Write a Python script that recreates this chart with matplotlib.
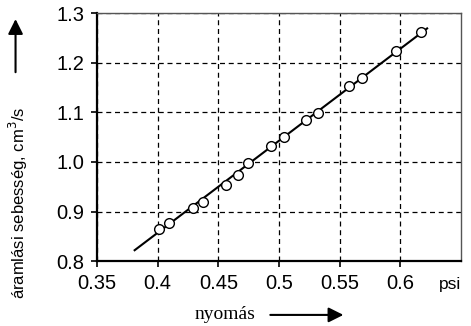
import numpy as np
import matplotlib
matplotlib.use('Agg')
import matplotlib.pyplot as plt

pressure = [0.401, 0.409, 0.429, 0.437, 0.456, 0.466, 0.474, 0.493, 0.504,
            0.522, 0.532, 0.558, 0.568, 0.596, 0.617]
flow = [0.864, 0.877, 0.907, 0.920, 0.953, 0.973, 0.997, 1.033, 1.051,
        1.084, 1.098, 1.153, 1.170, 1.223, 1.262]

# fitted line end points
fit_x = [0.381, 0.622]
fit_y = [0.822, 1.269]

xticks = [0.35, 0.4, 0.45, 0.5, 0.55, 0.6]
xticklabels = ['0.35', '0.4', '0.45', '0.5', '0.55', '0.6']
yticks = [0.8, 0.9, 1.0, 1.1, 1.2, 1.3]
yticklabels = ['0.8', '0.9', '1.0', '1.1', '1.2', '1.3']

plt.rcParams['font.family'] = ['Liberation Sans', 'DejaVu Sans']

fig = plt.figure(figsize=(4.71, 3.26), dpi=100)
ax = fig.add_axes([0.206, 0.199, 0.773, 0.761])

ax.plot(fit_x, fit_y, color='black', lw=1.5, zorder=2)
ax.plot(pressure, flow, 'o', mfc='white', mec='black', mew=1.0, ms=7, zorder=3)

ax.set_xlim(0.35, 0.65)
ax.set_ylim(0.8, 1.3)
ax.set_xticks(xticks)
ax.set_xticklabels(xticklabels)
ax.set_yticks(yticks)
ax.set_yticklabels(yticklabels)
ax.tick_params(labelsize=14.5, length=4, width=1.2, direction='out', pad=5)
ax.grid(True, ls=(0, (4, 3)), color='black', lw=0.9)

for s in ['left', 'bottom']:
    ax.spines[s].set_linewidth(1.6)
for s in ['top', 'right']:
    ax.spines[s].set_linewidth(1.0)
    ax.spines[s].set_color('#555555')

# axis labels with arrows
fig.text(0.040, 0.377, 'áramlási sebesség, cm$^3$/s', rotation=90,
         ha='center', va='center', fontsize=12)
ax.annotate('', xy=(0.033, 0.95), xytext=(0.033, 0.77), xycoords='figure fraction',
            annotation_clip=False,
            arrowprops=dict(arrowstyle='-|>,head_length=0.6,head_width=0.3',
                            color='black', lw=1.5, mutation_scale=15))
fig.text(0.478, 0.034, 'nyomás', ha='center', va='center', fontsize=14,
         family=['Liberation Serif', 'DejaVu Serif'])
ax.annotate('', xy=(0.735, 0.034), xytext=(0.568, 0.034), xycoords='figure fraction',
            annotation_clip=False,
            arrowprops=dict(arrowstyle='-|>,head_length=0.6,head_width=0.3',
                            color='black', lw=1.5, mutation_scale=15))
fig.text(0.955, 0.126, 'psi', ha='center', va='center', fontsize=12.5)

fig.savefig('out.png', dpi=100)
